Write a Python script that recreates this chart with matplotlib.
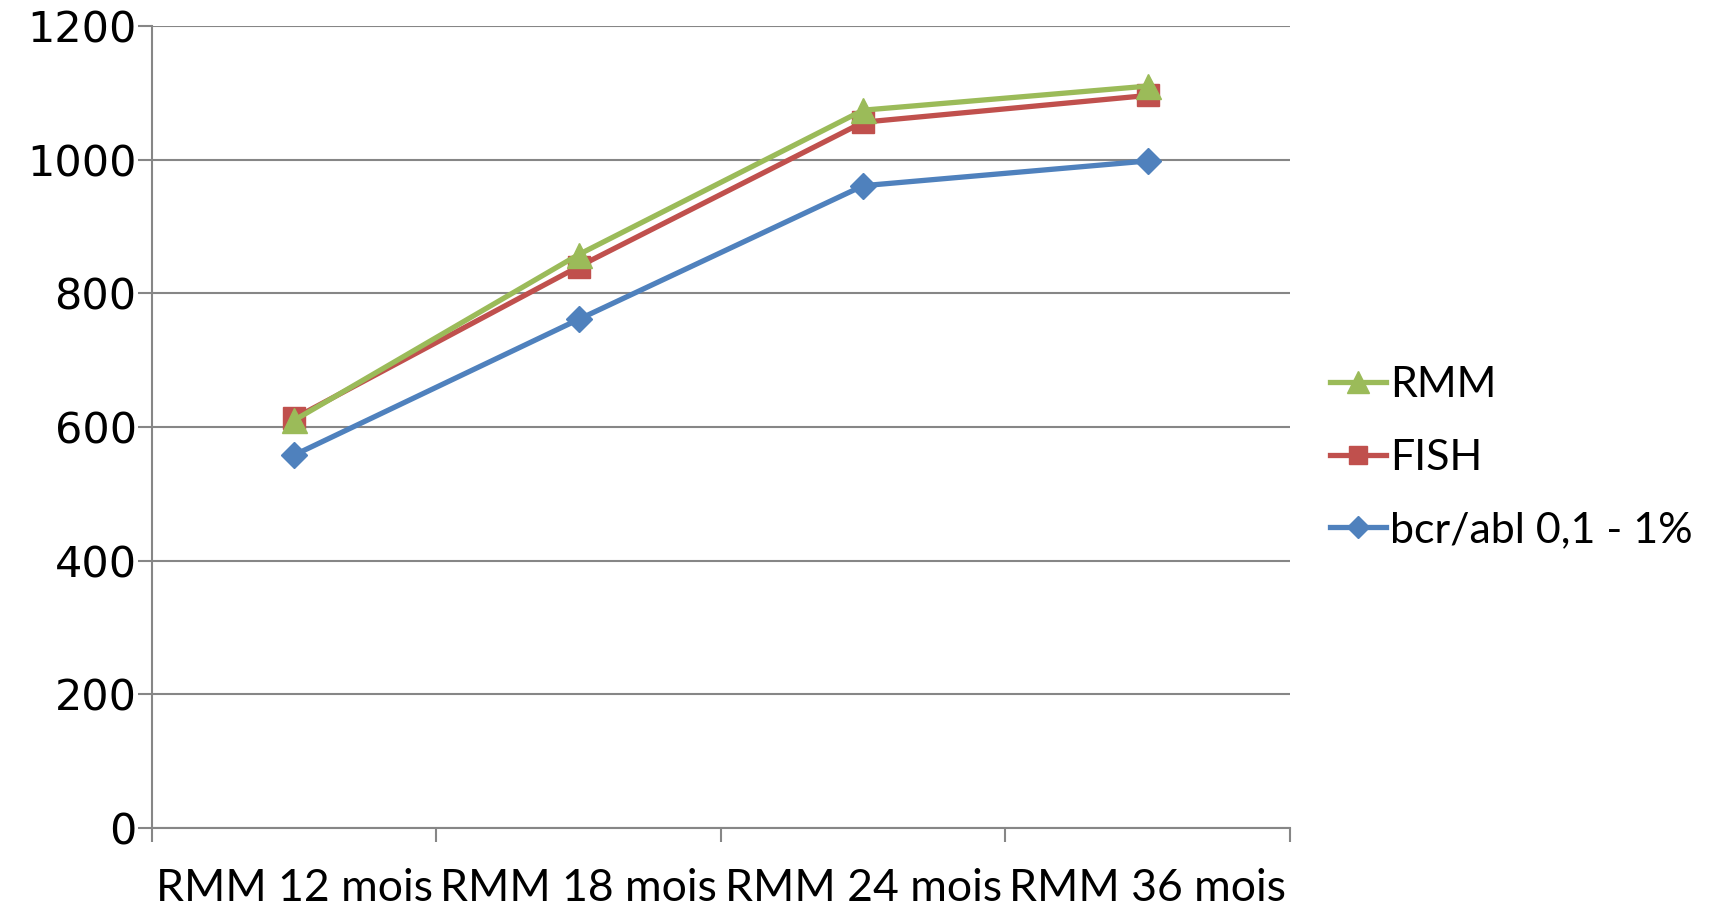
import matplotlib
matplotlib.use("Agg")
import matplotlib.pyplot as plt
from matplotlib.ticker import FixedLocator

plt.rcParams['font.family'] = ['Lato', 'DejaVu Sans']

categories = ["RMM 12 mois", "RMM 18 mois", "RMM 24 mois", "RMM 36 mois"]
rmm = [610, 858, 1074, 1110]
fish = [613, 840, 1056, 1096]
bcr_abl = [558, 761, 961, 998]
y_ticks = [0, 200, 400, 600, 800, 1000, 1200]

fig = plt.figure(figsize=(17.13, 9.14), dpi=100)
ax = fig.add_axes([0.0887, 0.0941, 0.753 - 0.0887, 0.9716 - 0.0941])

x = list(range(len(categories)))
grid_c = "#868686"
for v in y_ticks:
    ax.axhline(v, color=grid_c, lw=1.5, zorder=1)

h_bcr, = ax.plot(x, bcr_abl, color="#4F81BD", lw=3.8, marker="D", ms=13,
                 label="bcr/abl 0,1 - 1%", zorder=3)
h_fish, = ax.plot(x, fish, color="#C0504D", lw=3.8, marker="s", ms=16,
                  label="FISH", zorder=4)
h_rmm, = ax.plot(x, rmm, color="#9BBB59", lw=3.8, marker="^", ms=18,
                 label="RMM", zorder=5)

ax.set_xlim(-0.5, len(categories) - 0.5)
ax.set_ylim(0, 1200)
ax.set_yticks(y_ticks)
ax.set_yticklabels([str(v) for v in y_ticks], family=["DejaVu Sans"], fontsize=31)
ax.set_xticks(x)
ax.set_xticklabels(categories)
ax.xaxis.set_minor_locator(FixedLocator([i - 0.5 for i in range(len(categories) + 1)]))
ax.tick_params(axis="x", which="major", length=0, pad=29, labelsize=32)
ax.tick_params(axis="x", which="minor", length=10, width=1.5, color=grid_c, direction="out")
ax.tick_params(axis="y", length=10, width=1.5, color=grid_c, direction="out", pad=1)

for s in ["top", "right"]:
    ax.spines[s].set_visible(False)
for s in ["left", "bottom"]:
    ax.spines[s].set_color(grid_c)
    ax.spines[s].set_linewidth(1.5)

fig.legend([h_rmm, h_fish, h_bcr], ["RMM", "FISH", "bcr/abl 0,1 - 1%"],
           loc="center left", bbox_to_anchor=(0.7764, 0.499),
           frameon=False, fontsize=31, handlelength=1.3, handletextpad=0.1,
           labelspacing=0.8, markerscale=0.85, borderpad=0, borderaxespad=0)

fig.savefig("out.png", dpi=100)
